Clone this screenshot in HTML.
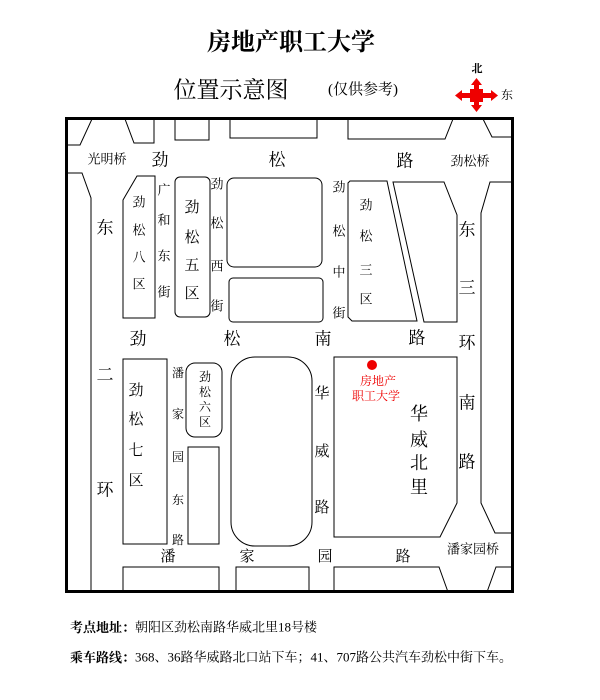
<!DOCTYPE html>
<html><head><meta charset="utf-8"><style>
html,body{margin:0;padding:0;background:#fff;}
svg{display:block;}
text{font-family:"Liberation Serif","Noto Serif CJK SC",serif;fill:#000;dominant-baseline:central;text-anchor:middle;}
.s{font-size:13px}
.m{font-size:15px}
.l{font-size:17px}
</style></head><body>
<svg width="600" height="700" viewBox="0 0 600 700" xmlns="http://www.w3.org/2000/svg">
<text x="291" y="43" style="font-size:24px;font-weight:bold">房地产职工大学</text>
<text x="231" y="90" style="font-size:23px">位置示意图</text>
<text x="363" y="90" style="font-size:15px">(仅供参考)</text>
<!-- compass -->
<g fill="#e00" stroke="none">
<rect x="460" y="93" width="33" height="5"/>
<rect x="474" y="82" width="5" height="26"/>
<rect x="470" y="89" width="13" height="13"/>
<polygon points="455,95.5 462,90 462,101"/>
<polygon points="498,95.5 491,90 491,101"/>
<polygon points="476.5,78 471,85 482,85"/>
<polygon points="476.5,112 471,105 482,105"/>
</g>
<text x="477" y="69" style="font-size:11px;font-weight:bold">北</text>
<text x="507" y="95" style="font-size:12px">东</text>

<g fill="none" stroke="#000" stroke-width="1">
<rect x="66.5" y="118.5" width="446" height="473" stroke-width="3"/>
<polyline points="92,119 80,145 66,145"/>
<polyline points="125,119 134,143 154,143 154,119"/>
<polyline points="175,119 175,140 209,140 209,119"/>
<polyline points="230,119 230,138 317,138 317,119"/>
<polyline points="348,119 348,139 445,139 453,119"/>
<polyline points="483,119 492,137 513,137"/>
<polyline points="66,173 82,173 91,198 91,592"/>
<polygon points="137,176 155,176 155,318 123,318 123,200"/>
<rect x="175" y="177" width="35" height="140" rx="5"/>
<rect x="227" y="178" width="95" height="89" rx="7"/>
<rect x="229" y="278" width="94" height="44" rx="4"/>
<polygon points="350,181 387,181 417,321 352,321 348,317 348,183"/>
<polygon points="393,182 444,182 457,215 457,322 424,322"/>
<polyline points="513,182 490,182 481,213 481,503 495,533 513,533"/>
<rect x="123" y="359" width="44" height="185"/>
<rect x="186" y="363" width="36" height="74" rx="9"/>
<rect x="188" y="447" width="31" height="97"/>
<rect x="231" y="357" width="81" height="189" rx="24"/>
<polygon points="334,357 457,357 457,503 440,537 334,537"/>
<polyline points="123,592 123,567 219,567 219,592"/>
<polyline points="236,592 236,567 309,567 309,592"/>
<polyline points="334,592 334,567 439,567 448,592"/>
<polyline points="487,592 496,567 513,567"/>
</g>
<circle cx="372" cy="365" r="5" fill="#e00"/>

<text x="107" y="159" class="s">光明桥</text>
<text x="160" y="160" class="l">劲</text>
<text x="277" y="160" class="l">松</text>
<text x="405" y="161" class="l">路</text>
<text x="470" y="161" class="s">劲松桥</text>

<g class="s"><text x="164" y="190">广</text><text x="164" y="220">和</text><text x="164" y="256">东</text><text x="164" y="292">街</text></g>
<g class="s"><text x="139" y="202">劲</text><text x="139" y="230">松</text><text x="139" y="257">八</text><text x="139" y="284">区</text></g>
<g class="m"><text x="192" y="208">劲</text><text x="192" y="238">松</text><text x="192" y="266">五</text><text x="192" y="294">区</text></g>
<g class="s"><text x="217" y="184">劲</text><text x="217" y="223">松</text><text x="217" y="266">西</text><text x="217" y="306">街</text></g>
<text x="105" y="228" class="l">东</text>
<text x="105" y="375" class="l">二</text>
<text x="105" y="490" class="l">环</text>
<text x="138" y="339" class="l">劲</text>
<text x="232" y="339" class="l">松</text>
<text x="323" y="339" class="l">南</text>
<text x="417" y="338" class="l">路</text>
<g class="s"><text x="339" y="187">劲</text><text x="339" y="231">松</text><text x="339" y="272">中</text><text x="339" y="313">街</text></g>
<g class="s"><text x="366" y="205">劲</text><text x="366" y="236">松</text><text x="366" y="270">三</text><text x="366" y="299">区</text></g>
<g class="l"><text x="467" y="230">东</text><text x="467" y="288">三</text><text x="467" y="343">环</text><text x="467" y="403">南</text><text x="467" y="462">路</text></g>
<g style="font-size:12px"><text x="178" y="373">潘</text><text x="178" y="414">家</text><text x="178" y="457">园</text><text x="178" y="500">东</text><text x="178" y="540">路</text></g>
<g style="font-size:12px"><text x="205" y="377">劲</text><text x="205" y="392">松</text><text x="205" y="407">六</text><text x="205" y="422">区</text></g>
<g class="m"><text x="136" y="391">劲</text><text x="136" y="420">松</text><text x="136" y="451">七</text><text x="136" y="481">区</text></g>
<g class="m"><text x="322" y="394">华</text><text x="322" y="452">威</text><text x="322" y="508">路</text></g>
<text x="378" y="381" style="font-size:12px;fill:#e00">房地产</text>
<text x="376" y="396" style="font-size:12px;fill:#e00">职工大学</text>
<g style="font-size:18px"><text x="419" y="414">华</text><text x="419" y="440">威</text><text x="419" y="463">北</text><text x="419" y="487">里</text></g>
<g class="m"><text x="168" y="557">潘</text><text x="247" y="557">家</text><text x="325" y="557">园</text><text x="403" y="557">路</text></g>
<text x="473" y="549" class="s">潘家园桥</text>

<text x="70" y="627" style="font-size:13px;text-anchor:start"><tspan font-weight="bold">考点地址：</tspan>朝阳区劲松南路华威北里18号楼</text>
<text x="70" y="657" style="font-size:13px;text-anchor:start"><tspan font-weight="bold">乘车路线：</tspan>368、36路华威路北口站下车；41、707路公共汽车劲松中街下车。</text>
</svg>
</body></html>
